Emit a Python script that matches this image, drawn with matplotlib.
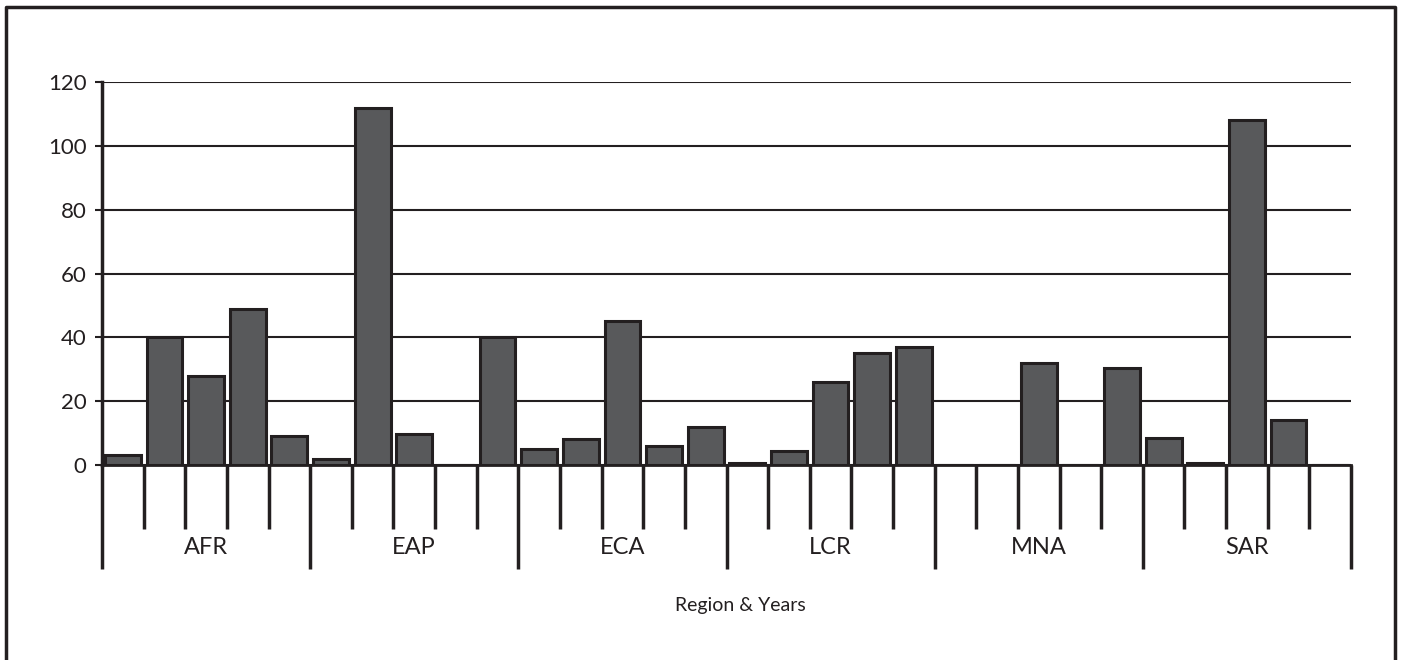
import numpy as np
import matplotlib
matplotlib.use("Agg")
import matplotlib.pyplot as plt
from matplotlib.lines import Line2D

plt.rcParams['font.family'] = ['Lato', 'DejaVu Sans']

# Data: 5 years per region
regions = ["AFR", "EAP", "ECA", "LCR", "MNA", "SAR"]
afr = [3, 40, 28, 49, 9]
eap = [2, 112, 9.7, 0, 40]
eca = [5, 8, 45, 6, 12]
lcr = [0.5, 4.5, 26, 35, 37]
mna = [0, 0, 32, 0, 30.5]
sar = [8.6, 0.6, 108, 14, 0]
yticks = [0, 20, 40, 60, 80, 100, 120]

values = afr + eap + eca + lcr + mna + sar
n_per = 5
n = len(values)

W, H = 1401, 660
fig = plt.figure(figsize=(W / 100, H / 100), dpi=100)
ax = fig.add_axes([102 / W, 1 - 465 / H, (1351 - 102) / W, (465 - 82) / H])

x = np.arange(n) + 0.5
ax.bar(x, values, width=0.86, color='#58595b', edgecolor='#231f20',
       linewidth=2.2, zorder=3)

ax.set_xlim(0, n)
ax.set_ylim(0, 120)
ax.set_yticks(yticks)
ax.set_yticklabels([str(v) for v in yticks], fontsize=16, color='#231f20')
ax.tick_params(axis='y', length=5, width=1.5, pad=6, color='#231f20')
ax.set_xticks([])
ax.yaxis.grid(True, color='#231f20', linewidth=1.5, zorder=1)

for s in ['top', 'right']:
    ax.spines[s].set_visible(False)
ax.spines['left'].set_linewidth(2.5)
ax.spines['left'].set_color('#231f20')
ax.spines['bottom'].set_linewidth(2)
ax.spines['bottom'].set_color('#231f20')
ax.spines['bottom'].set_zorder(4)

# category axis separators below the zero line
h = 465 - 82
short = -(529 - 465) / h
long_ = -(569 - 465) / h
tr = ax.get_xaxis_transform()
for i in range(n + 1):
    y1 = long_ if i % n_per == 0 else short
    ax.plot([i, i], [0, y1], transform=tr, color='#231f20', lw=2.5,
            clip_on=False, solid_capstyle='butt')

for k, r in enumerate(regions):
    ax.text(k * n_per + n_per / 2, -(548 - 465) / h, r, transform=tr,
            ha='center', va='center', fontsize=17, color='#231f20')

fig.text(740 / W, 1 - 605 / H, "Region & Years", ha='center', va='center',
         fontsize=14, color='#231f20')

# outer frame (left, top, right)
fx0, fx1, fy = 6 / W, 1395 / W, 1 - 7 / H
fig.add_artist(Line2D([fx0, fx0, fx1, fx1], [0, fy, fy, 0],
                      transform=fig.transFigure, color='#231f20', lw=2.5))

fig.savefig("out.png", dpi=100)
